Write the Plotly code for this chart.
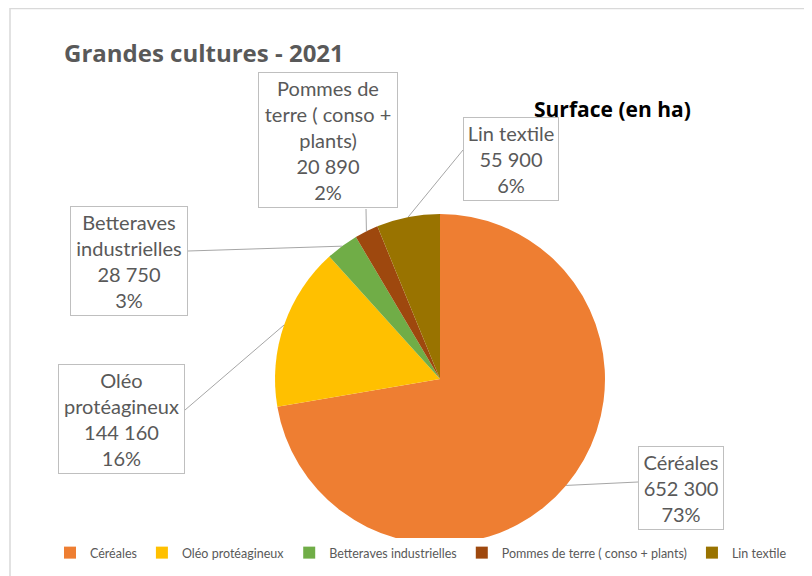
import math
import plotly.graph_objects as go

# ---- data ----
categories = ["Céréales", "Oléo protéagineux", "Betteraves industrielles",
              "Pommes de terre ( conso + plants)", "Lin textile"]
surfaces = [652300, 144160, 28750, 20890, 55900]
pct_labels = ["73%", "16%", "3%", "2%", "6%"]
box_names = ["Céréales", "Oléo<br>protéagineux", "Betteraves<br>industrielles",
             "Pommes de<br>terre ( conso +<br>plants)", "Lin textile"]
colors = ["#EE7E32", "#FFC000", "#70AD47", "#9E480E", "#997300"]

W, H = 804, 568          # figure size (page has an 8px body margin)
OFF = 8
CX, CY, R = 440, 379, 165  # pie centre / radius in screen pixels

def px(x):
    return (x - OFF) / W

def py(y):
    return 1 - (y - OFF) / H

def fmt(v):
    return f"{v:,}".replace(",", " ")

fig = go.Figure(go.Pie(
    labels=categories, values=surfaces, sort=False, direction="clockwise",
    rotation=0, textinfo="none", hoverinfo="label+value+percent",
    marker=dict(colors=colors, line=dict(width=0)),
    domain=dict(x=[px(CX - R), px(CX + R)], y=[py(CY + R), py(CY - R)]),
))

# label boxes: (centre x, centre y, box width) in pixels, and leader start
boxes = [
    (681, 488, 86, (638, 482)),
    (121.5, 419, 127, (185, 410)),
    (129, 260.5, 118, (188, 251)),
    (328, 139.5, 140, (366, 209)),
    (511, 159, 96, (463, 150)),
]

total = sum(surfaces)
cum = 0
shapes = []
annotations = []
for i, v in enumerate(surfaces):
    mid = (cum + v / 2) / total * 2 * math.pi
    cum += v
    ex = CX + R * math.sin(mid)
    ey = CY - R * math.cos(mid)
    bx, by, bw, (sx, sy) = boxes[i]
    shapes.append(dict(type="line", xref="paper", yref="paper",
                       x0=px(sx), y0=py(sy), x1=px(ex), y1=py(ey),
                       line=dict(color="#A6A6A6", width=1)))
    annotations.append(dict(
        xref="paper", yref="paper", x=px(bx), y=py(by),
        xanchor="center", yanchor="middle", showarrow=False,
        text=f"{box_names[i]}<br>{fmt(v)}<br>{pct_labels[i]}",
        align="center", width=bw - 8, borderpad=3,
        bordercolor="#BFBFBF", borderwidth=1, bgcolor="white",
        font=dict(family="Lato", size=20, color="#595959"),
    ))

# chart frame (top and left edges)
shapes.append(dict(type="line", xref="paper", yref="paper", x0=px(10), y0=py(8.5),
                   x1=1, y1=py(8.5), line=dict(color="#D9D9D9", width=1.5)))
shapes.append(dict(type="line", xref="paper", yref="paper", x0=px(10), y0=py(8),
                   x1=px(10), y1=0, line=dict(color="#D9D9D9", width=1.5)))

annotations.append(dict(xref="paper", yref="paper", x=px(62), y=py(52),
                        xanchor="left", yanchor="middle", showarrow=False,
                        text="<b>Grandes cultures - 2021</b>",
                        font=dict(family="Open Sans", size=24, color="#595959")))
annotations.append(dict(xref="paper", yref="paper", x=px(532), y=py(109),
                        xanchor="left", yanchor="middle", showarrow=False,
                        text="<b>Surface (en ha)</b>",
                        font=dict(family="Open Sans", size=21, color="#000000")))

fig.update_layout(
    width=W, height=H, margin=dict(l=0, r=0, t=0, b=0),
    paper_bgcolor="white", plot_bgcolor="white",
    shapes=shapes, annotations=annotations,
    legend=dict(orientation="h", x=px(421), xanchor="center", y=py(553), yanchor="middle",
                font=dict(family="Lato", size=12.5, color="#595959"),
                itemwidth=30, tracegroupgap=0),
)

fig.write_html("out.html")
